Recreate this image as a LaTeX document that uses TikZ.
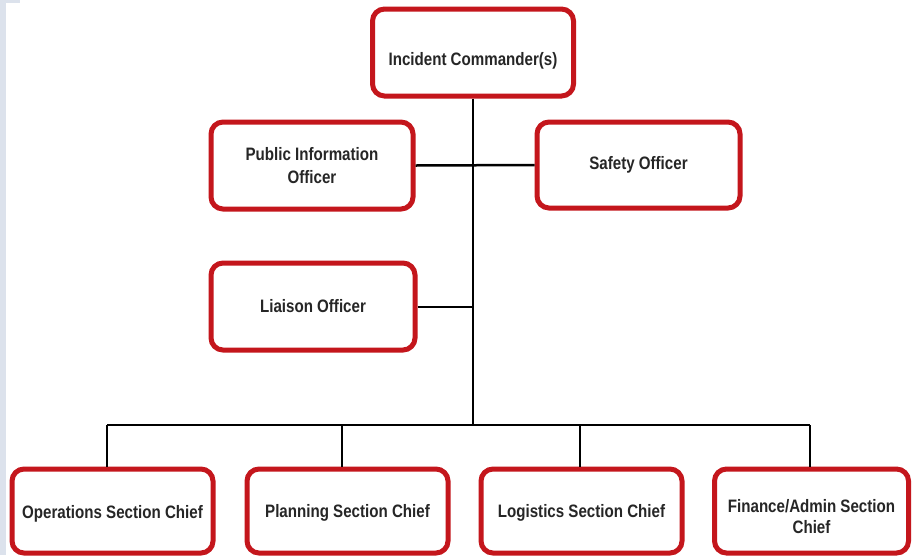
\documentclass[tikz,border=0pt]{standalone}
\usepackage{fontspec}
\setmainfont{Liberation Sans}[FakeStretch=0.84]
\begin{document}
\begin{tikzpicture}[x=1pt,y=-1pt,
  orgbox/.style={draw=boxred, line width=5pt, rounded corners=12pt, fill=white,
    align=center, text=textgray, font=\bfseries\fontsize{18}{23}\selectfont, inner sep=0pt},
  boxtext/.style={align=center, text=textgray, font=\bfseries\fontsize{18}{21}\selectfont, inner sep=0pt},
  link/.style={draw=black, line width=2.5pt}]
  \definecolor{boxred}{HTML}{C4161C}
  \definecolor{textgray}{HTML}{262626}
  \definecolor{edge}{HTML}{DCE2EC}
  % canvas and left edge strip
  \path[use as bounding box, fill=white] (0,0) rectangle (912,555);
  \fill[edge] (0,0) rectangle (6,555);
  \fill[edge] (0,0) rectangle (20,3);

  % command staff
  \node[orgbox, minimum width=201pt, minimum height=87pt] (ic) at (473,52.5) {};
  \node[boxtext] (ictext) at (473,61) {Incident Commander(s)};
  \node[orgbox, minimum width=202pt, minimum height=87pt] (pio) at (312,165.5) {Public Information\\Officer};
  \node[orgbox, minimum width=203pt, minimum height=86pt] (safety) at (638.5,165) {Safety Officer};
  \node[orgbox, minimum width=204pt, minimum height=87pt] (liaison) at (313,306.5) {Liaison Officer};

  % general staff
  \node[orgbox, minimum width=201pt, minimum height=84pt] (ops) at (112.5,511) {};
  \node[orgbox, minimum width=201pt, minimum height=84pt] (plan) at (347.5,511) {};
  \node[orgbox, minimum width=201pt, minimum height=84pt] (log) at (581.5,511) {};
  \node[orgbox, minimum width=194pt, minimum height=84pt] (fin) at (811.5,511) {};
  \node[boxtext] (opstext) at (112.5,514) {Operations Section Chief};
  \node[boxtext] (plantext) at (347.5,513) {Planning Section Chief};
  \node[boxtext] (logtext) at (581.5,513) {Logistics Section Chief};
  \node[boxtext] (fintext) at (811.5,517) {Finance/Admin Section\\Chief};

  % trunk and branch points
  \coordinate (hub) at (473,425);
  \coordinate (d1) at (107,425);
  \coordinate (d2) at (342,425);
  \coordinate (d3) at (580,425);
  \coordinate (d4) at (810,425);
  \coordinate (lj) at (473,307);

  \path[link] (ic.south) -- (hub);
  \path[link] (pio.east) -- (safety.west);
  \path[link] (liaison.east |- lj) -- (lj);
  \path[link] (d1) -- (d4);
  \path[link] (d1) -- (d1 |- ops.north);
  \path[link] (d2) -- (d2 |- plan.north);
  \path[link] (d3) -- (d3 |- log.north);
  \path[link] (d4) -- (d4 |- fin.north);
\end{tikzpicture}
\end{document}
